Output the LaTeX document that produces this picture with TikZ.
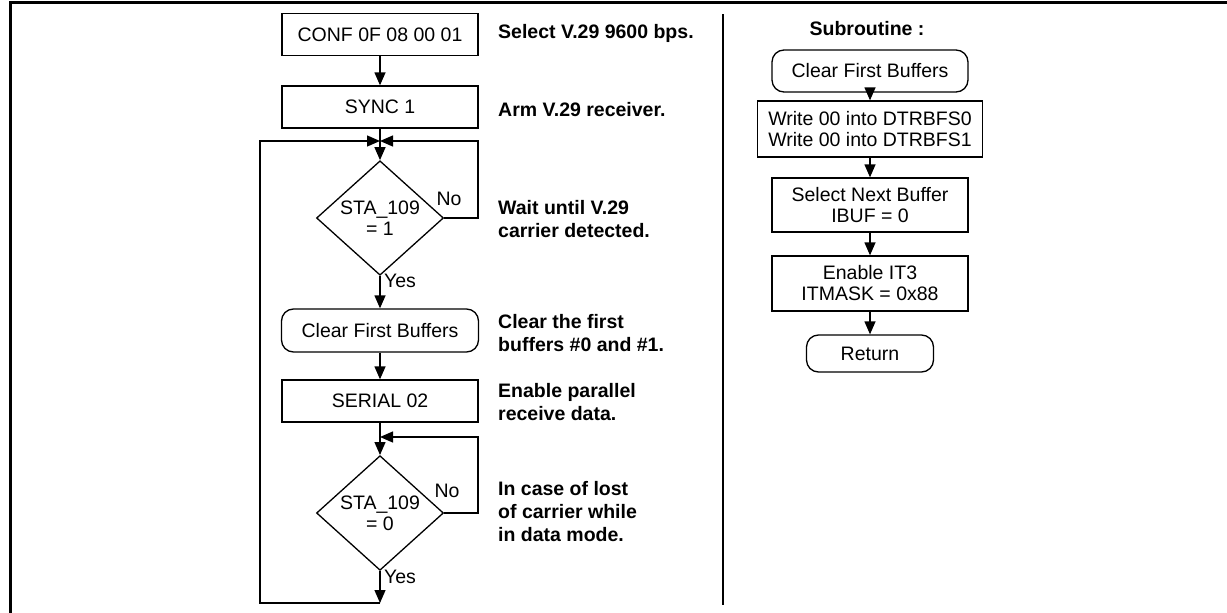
\documentclass[tikz,border=0pt]{standalone}
\usepackage{fontspec}
\setmainfont{Liberation Sans}
\usetikzlibrary{arrows.meta,shapes.geometric}
\begin{document}
\begin{tikzpicture}[x=1pt,y=-1pt,
  every node/.style={font={\fontsize{19.5}{21}\selectfont}, inner sep=0pt},
  box/.style={draw, line width=1.3pt, minimum width=196pt, minimum height=42pt, align=center},
  rbox/.style={box, rounded corners=12pt},
  dec/.style={draw, diamond, line width=1.3pt, minimum width=127pt, minimum height=98pt, align=center},
  cmt/.style={font={\fontsize{19.5}{23}\selectfont\bfseries}, align=left, anchor=base west},
  lbl/.style={font={\fontsize{19.5}{21}\selectfont}},
  conn/.style={line width=1.3pt},
  arr/.style={conn, -{Triangle[length=13pt,width=11pt]}},
  frame/.style={line width=2.6pt}
]
\useasboundingbox (0,0) rectangle (1227,613);
\draw[frame] (10.5,613) -- (10.5,2.5) -- (1227,2.5);
\draw[line width=2pt] (723,14) -- (723,605);

% left flow
\node[box] (conf) at (380,34.5) {CONF 0F 08 00 01};
\node[box] (sync) at (380,107) {SYNC 1};
\coordinate (j1) at (380,141);
\node[dec] (d1) at (380,218) {STA\_109\\= 1};
\node[rbox, minimum width=197pt, minimum height=43pt] (cfb) at (380,330.5) {Clear First Buffers};
\node[box] (ser) at (380,401) {SERIAL 02};
\coordinate (j2) at (380,437);
\node[dec] (d2) at (380,513) {STA\_109\\= 0};
\coordinate (bot) at (380,603);
\coordinate (bl) at (260,603);
\coordinate (tl) at (260,141);
\coordinate (r1) at (478,218);
\coordinate (r1t) at (478,141);
\coordinate (r2) at (478,513);
\coordinate (r2t) at (478,437);

\draw[arr] (conf) -- (sync);
\draw[arr] (sync) -- (d1);
\draw[arr] (d1.east) -- (r1) -- (r1t) -- (j1);
\draw[arr] (d1) -- (cfb);
\draw[arr] (cfb) -- (ser);
\draw[arr] (ser) -- (d2);
\draw[arr] (d2.east) -- (r2) -- (r2t) -- (j2);
\draw[arr] (d2) -- (bot);
\draw[arr] (bot) -- (bl) -- (tl) -- (j1);

\node[lbl] (no1) at (449,199) {No};
\node[lbl] (yes1) at (400,281) {Yes};
\node[lbl] (no2) at (447,491) {No};
\node[lbl] (yes2) at (400,577) {Yes};

% comments
\node[cmt] (c1) at (498,38) {Select V.29 9600 bps.};
\node[cmt] (c2) at (498,116) {Arm V.29 receiver.};
\node[cmt] (c3) at (498,237) {Wait until V.29\\carrier detected.};
\node[cmt] (c4) at (498,351) {Clear the first\\buffers \#0 and \#1.};
\node[cmt] (c5) at (498,420) {Enable parallel\\receive data.};
\node[cmt] (c6) at (498,541) {In case of lost\\of carrier while\\in data mode.};

% subroutine
\node[cmt, anchor=base] (sub) at (867,35) {Subroutine :};
\node[rbox] (rcfb) at (870,71) {Clear First Buffers};
\node[box, minimum width=225pt, minimum height=56pt] (wr) at (870,129) {Write 00 into DTRBFS0\\Write 00 into DTRBFS1};
\node[box, minimum height=54pt] (sel) at (870,205) {Select Next Buffer\\IBUF = 0};
\node[box, minimum height=55pt] (en) at (870,283.5) {Enable IT3\\ITMASK = 0x88};
\node[rbox, minimum width=127pt, minimum height=37pt] (ret) at (870,353.5) {Return};
\draw[arr] (rcfb) -- (wr);
\draw[arr] (wr) -- (sel);
\draw[arr] (sel) -- (en);
\draw[arr] (en) -- (ret);
\end{tikzpicture}
\end{document}
